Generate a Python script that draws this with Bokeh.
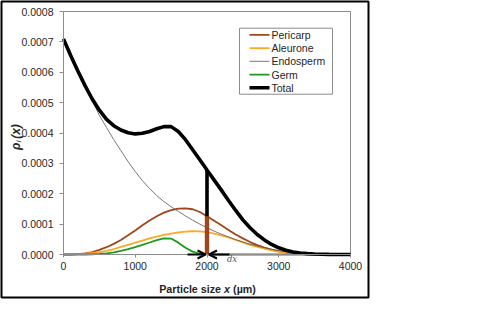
from math import pi

from bokeh.core.properties import value
from bokeh.embed import file_html
from bokeh.models import Arrow, FixedTicker, Label, OpenHead, PrintfTickFormatter, Range1d
from bokeh.plotting import figure
from bokeh.resources import INLINE

# Particle size grid (µm)
particle_size = list(range(0, 4001, 100))

pericarp = [
    0.0, 0.0, 0.0000010, 0.0000035, 0.0000080, 0.0000150, 0.0000240, 0.0000350, 0.0000480, 0.0000630,
    0.0000790, 0.0000960, 0.0001120, 0.0001260, 0.0001380, 0.0001460, 0.0001510, 0.0001520, 0.0001490, 0.0001400,
    0.0001260, 0.0001110, 0.0000960, 0.0000810, 0.0000660, 0.0000530, 0.0000410, 0.0000310, 0.0000230, 0.0000160,
    0.0000110, 0.0000072, 0.0000046, 0.0000028, 0.0000016, 0.0000009, 0.0000004, 0.0000002, 0.0, 0.0, 0.0,
]
aleurone = [
    0.0, 0.0000004, 0.0000013, 0.0000028, 0.0000050, 0.0000080, 0.0000120, 0.0000180, 0.0000250, 0.0000320,
    0.0000390, 0.0000460, 0.0000530, 0.0000590, 0.0000645, 0.0000690, 0.0000725, 0.0000750, 0.0000765, 0.0000760,
    0.0000735, 0.0000690, 0.0000630, 0.0000560, 0.0000480, 0.0000400, 0.0000320, 0.0000250, 0.0000190, 0.0000135,
    0.0000090, 0.0000060, 0.0000038, 0.0000023, 0.0000013, 0.0000007, 0.0000003, 0.0000001, 0.0, 0.0, 0.0,
]
endosperm = [
    0.000700, 0.000651, 0.000603, 0.000556, 0.000506, 0.000458, 0.000418, 0.000378, 0.000342, 0.000306,
    0.000273, 0.000243, 0.000217, 0.000194, 0.000174, 0.000157, 0.000142, 0.000127, 0.000113, 0.000100,
    0.000088, 0.000077, 0.000067, 0.000058, 0.000049, 0.000041, 0.000034, 0.000028, 0.000022, 0.000017,
    0.0000125, 0.0000090, 0.0000062, 0.0000041, 0.0000026, 0.0000015, 0.0000008, 0.0000004, 0.0000002, 0.0000001, 0.0,
]
germ = [
    0.0, 0.0, 0.0, 0.0, 0.0000008, 0.0000018, 0.0000038, 0.0000072, 0.0000120, 0.0000180,
    0.0000245, 0.0000320, 0.0000395, 0.0000475, 0.0000530, 0.0000525, 0.0000390, 0.0000220, 0.0000095, 0.0000025,
    0.0000003, 0.0, 0.0, 0.0, 0.0, 0.0, 0.0, 0.0, 0.0, 0.0,
    0.0, 0.0, 0.0, 0.0, 0.0, 0.0, 0.0, 0.0, 0.0, 0.0, 0.0,
]
total = [
    0.000710, 0.000655, 0.000604, 0.000556, 0.000512, 0.000475, 0.000445, 0.000424, 0.000410, 0.000401,
    0.000397, 0.000399, 0.000405, 0.000414, 0.000421, 0.000421, 0.000405, 0.000378, 0.000345, 0.000312,
    0.000278, 0.000245, 0.000212, 0.000178, 0.000145, 0.000114, 0.000088, 0.000066, 0.000048, 0.000033,
    0.000022, 0.000014, 0.0000085, 0.0000050, 0.0000028, 0.0000015, 0.0000007, 0.0000003, 0.0000001, 0.0, 0.0,
]

series_names = ["Pericarp", "Aleurone", "Endosperm", "Germ", "Total"]
series_values = [pericarp, aleurone, endosperm, germ, total]
series_colors = ["#A0461E", "#FFA726", "#555555", "#1E9A1E", "#000000"]
series_widths = [1.8, 1.8, 0.8, 1.8, 3.6]

x_ticks = [0, 1000, 2000, 3000, 4000]
y_ticks = [0.0, 0.0001, 0.0002, 0.0003, 0.0004, 0.0005, 0.0006, 0.0007, 0.0008]

# size class highlighted by the bar and the dx arrows
bar_x = 2000
bar_i = particle_size.index(bar_x)

W, H = 482, 336
# plotting area (axes box) in pixels, and the outer boxed panel in pixels
AL, AR, AT, AB = 63, 350, 11, 254
BL, BR, BT, BB = 1, 368, 1, 297
X0, X1 = x_ticks[0], x_ticks[-1]
Y0, Y1 = y_ticks[0], y_ticks[-1]


def dx(px):
    return X0 + (px - AL) / (AR - AL) * (X1 - X0)


def dy(py):
    return Y0 + (AB - py) / (AB - AT) * (Y1 - Y0)


FONT = "Liberation Sans"
TXT = "#262626"
GRAY = "#8c8c8c"

# the frame is the whole boxed panel; axes sit inside it at x=0 / y=0
p = figure(
    width=W, height=H,
    x_range=Range1d(dx(BL), dx(BR)), y_range=Range1d(dy(BB), dy(BT)),
    min_border_left=BL, min_border_right=W - BR,
    min_border_top=BT, min_border_bottom=H - BB,
    output_backend="svg", toolbar_location=None,
)
p.background_fill_color = "white"
p.border_fill_color = "white"
p.outline_line_color = "black"
p.outline_line_width = 2
p.xgrid.visible = False
p.ygrid.visible = False

for ax in (p.xaxis[0], p.yaxis[0]):
    ax.axis_line_color = GRAY
    ax.major_tick_line_color = GRAY
    ax.minor_tick_line_color = None
    ax.major_tick_in = 0
    ax.major_label_text_font = FONT
    ax.major_label_text_font_size = "10.5px"
    ax.major_label_text_color = TXT

p.xaxis.fixed_location = Y0
p.xaxis.bounds = (X0, X1)
p.xaxis.ticker = FixedTicker(ticks=x_ticks)
p.xaxis.major_tick_out = 3
p.xaxis.major_label_standoff = 4
p.yaxis.fixed_location = X0
p.yaxis.bounds = (Y0, Y1)
p.yaxis.ticker = FixedTicker(ticks=y_ticks)
p.yaxis.formatter = PrintfTickFormatter(format="%.4f")
p.yaxis.major_tick_out = 4
p.yaxis.major_label_standoff = 6

# top and right edges of the plotting area
p.segment(x0=[X0, X1], y0=[Y1, Y0], x1=[X1, X1], y1=[Y1, Y1], line_color=GRAY, line_width=1)

# curves, drawn in series order so Total lies on top
for vals, c, w in zip(series_values, series_colors, series_widths):
    p.line(particle_size, vals, line_color=c, line_width=w)

# the highlighted size class: full height in black, pericarp share in brown
p.segment(x0=[bar_x], y0=[0], x1=[bar_x], y1=[total[bar_i]], line_color="black", line_width=3.6)
p.segment(x0=[bar_x], y0=[0], x1=[bar_x], y1=[pericarp[bar_i]], line_color="#A0461E", line_width=4.4)

p.add_layout(Arrow(x_start=dx(187), y_start=0, x_end=dx(205), y_end=0,
                   line_width=2, line_color="black",
                   end=OpenHead(size=8, line_width=2, line_color="black")))
p.add_layout(Arrow(x_start=dx(229), y_start=0, x_end=dx(208.5), y_end=0,
                   line_width=2, line_color="black",
                   end=OpenHead(size=8, line_width=2, line_color="black")))
p.add_layout(Label(x=dx(231.5), y=dy(258.5), text="dx", text_font="DejaVu Serif",
                   text_font_style="italic", text_font_size="8.5px", text_color="#555555",
                   text_align="center", text_baseline="middle"))

# legend
lg_left, lg_right, lg_top, lg_bottom = 239, 332, 27.7, 93.7
p.quad(left=[dx(lg_left)], right=[dx(lg_right)], top=[dy(lg_top)], bottom=[dy(lg_bottom)],
       fill_color="white", line_color=GRAY, line_width=1)
row_y = [dy(34.3 + 13.25 * i) for i in range(len(series_names))]
for i, (name, c, w) in enumerate(zip(series_names, series_colors, series_widths)):
    p.line([dx(249), dx(269)], [row_y[i], row_y[i]], line_color=c, line_width=w)
p.text(x=[dx(271)] * len(series_names), y=row_y, text=series_names,
       text_font=value(FONT), text_font_size="10.5px", text_color=TXT,
       text_align="left", text_baseline="middle")

# x-axis title: "Particle size x (µm)" with an italic x
xt_base = dy(288.5)
for txt, px, style in [("Particle size", 158.7, "bold"), ("x", 223.6, "bold italic"), ("(µm)", 232.6, "bold")]:
    p.add_layout(Label(x=dx(px), y=xt_base, text=txt, text_font=FONT, text_font_style=style,
                       text_font_size="10.7px", text_color=TXT, text_align="left",
                       text_baseline="alphabetic"))

# y-axis title: rho with subscript i, read bottom to top
p.add_layout(Label(x=dx(15.5), y=dy(149.5), text="ρ", text_font=FONT, text_font_style="bold italic",
                   text_font_size="12px", text_color=TXT, angle=pi / 2, text_align="left",
                   text_baseline="alphabetic"))
p.add_layout(Label(x=dx(18), y=dy(141.8), text="i", text_font=FONT, text_font_style="italic",
                   text_font_size="8px", text_color=TXT, angle=pi / 2, text_align="left",
                   text_baseline="alphabetic"))
p.add_layout(Label(x=dx(15.5), y=dy(138.3), text="(x)", text_font=FONT, text_font_style="bold italic",
                   text_font_size="12px", text_color=TXT, angle=pi / 2, text_align="left",
                   text_baseline="alphabetic"))

open("out.html", "w").write(file_html(p, INLINE))
